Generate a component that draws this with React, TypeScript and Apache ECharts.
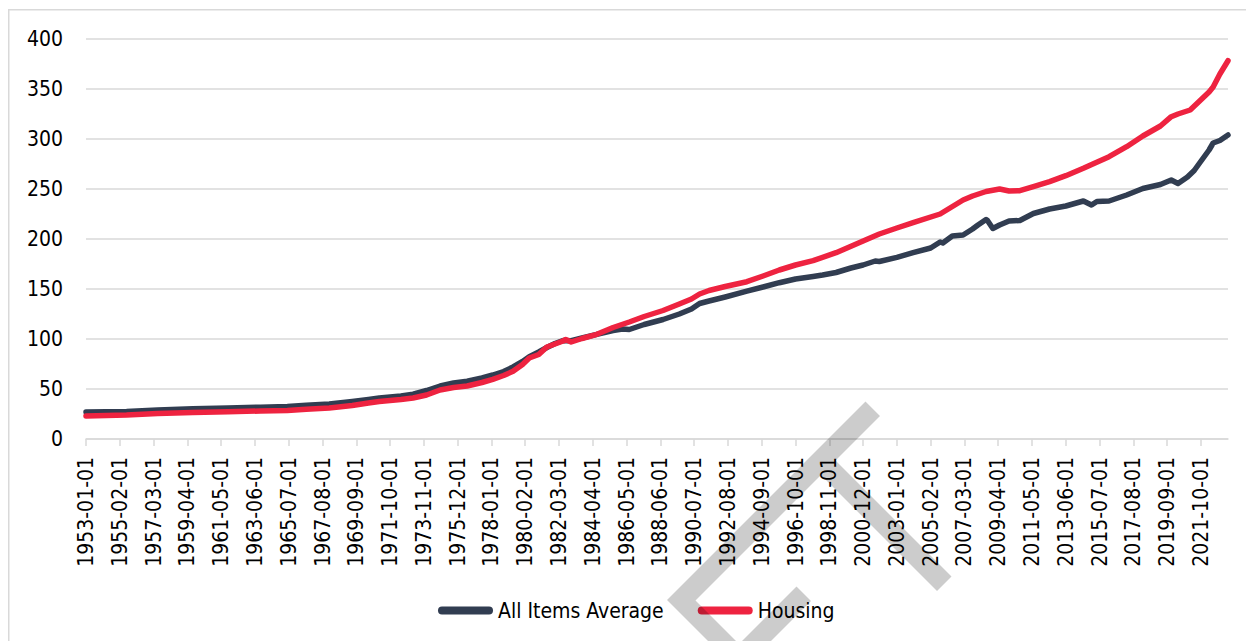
import React, { useEffect, useRef } from "react";
import * as echarts from "echarts";

const FONT = "'DejaVu Sans Condensed', 'DejaVu Sans', sans-serif";

// Axis settings
const START_YEAR = 1953;
const LAST_INDEX = 845; // 2023-06
const LABEL_STEP = 25; // months between tick labels
const LAST_LABEL_INDEX = 825; // 2021-10
const Y_TICKS = [0, 50, 100, 150, 200, 250, 300, 350, 400];

// All Items Average
const allDates = [
  "1953-01", "1955-07", "1957-06", "1959-08", "1961-10", "1963-10", "1965-06", "1966-08",
  "1968-01", "1969-06", "1970-06", "1971-02", "1972-06", "1973-03", "1974-01", "1974-11",
  "1975-09", "1976-07", "1977-06", "1978-02", "1978-10", "1979-05", "1979-12", "1980-05",
  "1980-12", "1981-06", "1981-12", "1982-06", "1982-12", "1983-08", "1984-07", "1985-07",
  "1986-02", "1986-07", "1987-06", "1988-08", "1989-08", "1990-05", "1990-11", "1991-06",
  "1992-06", "1993-10", "1994-10", "1995-10", "1996-10", "1997-11", "1998-06", "1999-04",
  "2000-03", "2000-12", "2001-09", "2001-12", "2003-01", "2004-01", "2005-02", "2005-09",
  "2005-11", "2006-06", "2007-02", "2007-09", "2008-01", "2008-07", "2008-08", "2008-12",
  "2009-05", "2009-12", "2010-08", "2011-06", "2012-06", "2013-06", "2014-07", "2015-01",
  "2015-05", "2016-02", "2017-03", "2018-03", "2019-04", "2019-12", "2020-05", "2020-12",
  "2021-05", "2021-09", "2022-04", "2022-07", "2022-12", "2023-06",
];
const allValues = [
  27.0, 27.6, 29.0, 30.2, 31.0, 31.8, 32.6, 33.8,
  35.0, 37.5, 39.5, 41.0, 43.0, 44.8, 48.5, 53.0,
  56.0, 57.8, 61.0, 64.0, 67.5, 72.0, 77.5, 82.3,
  87.0, 91.5, 95.5, 98.5, 98.3, 101.0, 104.7, 108.5,
  110.0, 109.5, 114.5, 119.5, 125.0, 130.0, 135.5, 138.0,
  142.0, 147.8, 152.0, 156.3, 160.0, 162.5, 164.0, 166.5,
  171.0, 174.0, 178.0, 177.5, 181.7, 186.3, 191.0, 197.0,
  196.0, 203.0, 204.0, 210.0, 214.0, 219.5, 218.5, 210.5,
  214.0, 218.0, 218.5, 225.5, 230.0, 233.0, 238.0, 234.0,
  237.5, 238.0, 244.0, 250.5, 254.5, 259.0, 255.5, 262.0,
  268.5, 276.0, 289.0, 296.0, 298.5, 304.0,
];

// Housing
const housingDates = [
  "1953-01", "1955-07", "1957-06", "1959-08", "1961-10", "1963-10", "1965-06", "1966-08",
  "1968-01", "1969-06", "1970-06", "1971-02", "1972-06", "1973-03", "1974-01", "1974-11",
  "1975-09", "1976-07", "1977-06", "1978-02", "1978-10", "1979-05", "1979-12", "1980-05",
  "1980-12", "1981-06", "1981-12", "1982-06", "1982-08", "1982-12", "1983-08", "1984-07",
  "1985-07", "1986-07", "1987-06", "1988-08", "1989-08", "1990-05", "1990-11", "1991-06",
  "1992-06", "1993-10", "1994-10", "1995-10", "1996-10", "1997-11", "1999-04", "2000-12",
  "2001-12", "2003-01", "2004-01", "2005-09", "2007-02", "2007-09", "2008-07", "2009-05",
  "2009-12", "2010-08", "2011-06", "2012-06", "2013-06", "2014-07", "2015-02", "2016-02",
  "2017-03", "2018-03", "2019-04", "2019-12", "2020-05", "2021-02", "2021-09", "2022-04",
  "2022-07", "2022-12", "2023-06",
];
const housingValues = [
  23.0, 24.0, 25.5, 26.5, 27.3, 28.0, 28.6, 29.8,
  31.0, 33.5, 36.0, 37.5, 39.5, 41.0, 44.0, 49.0,
  51.5, 53.0, 56.5, 59.7, 63.5, 67.7, 74.5, 81.0,
  84.5, 92.0, 95.0, 98.0, 99.5, 97.0, 100.5, 104.7,
  111.5, 117.0, 122.5, 128.5, 135.0, 140.0, 145.0, 148.5,
  152.5, 157.3, 163.0, 169.0, 174.0, 178.3, 186.3, 198.0,
  205.0, 211.0, 216.3, 225.0, 239.0, 243.0, 247.5, 250.0,
  248.0, 248.3, 252.3, 257.3, 263.3, 270.7, 275.0, 282.3,
  292.3, 303.0, 313.0, 322.3, 325.0, 329.0, 338.0, 347.0,
  352.0, 365.0, 378.3,
];

const toIndex = (d: string) => {
  const [y, m] = d.split("-").map(Number);
  return (y - START_YEAR) * 12 + (m - 1);
};
const toLabel = (i: number) => {
  const y = START_YEAR + Math.floor(i / 12);
  const m = (i % 12) + 1;
  return `${y}-${m < 10 ? "0" + m : m}-01`;
};

const labelPositions: number[] = [];
for (let i = 0; i <= LAST_LABEL_INDEX; i += LABEL_STEP) labelPositions.push(i);

// watermark outline in (x+y, x-y) space
const uv = (pts: number[][]) => pts.map(([u, v]) => [(u + v) / 2, (u - v) / 2]);
const wmMain = uv([
  [1267, 464], [1296, 464], [1296, 375], [1528, 375], [1528, 346], [1296, 346],
  [1296, 95], [1420, 95], [1420, 67], [1267, 67],
]);
const wmArm = uv([[1383, 210], [1412, 210], [1412, 95], [1383, 95]]);

export default function App() {
  const ref = useRef<HTMLDivElement>(null);
  useEffect(() => {
    if (!ref.current) return;
    const chart = echarts.init(ref.current, undefined, { renderer: "svg" });
    const allData = allDates.map((d, i) => [toIndex(d), allValues[i]]);
    const housingData = housingDates.map((d, i) => [toIndex(d), housingValues[i]]);
    chart.setOption({
      animation: false,
      backgroundColor: "#ffffff",
      textStyle: { fontFamily: FONT },
      grid: { left: 86, right: 18, top: 39, bottom: 202, containLabel: false },
      xAxis: {
        type: "value",
        min: 0,
        max: LAST_INDEX,
        interval: LABEL_STEP,
        axisLine: { show: true, lineStyle: { color: "#d9d9d9", width: 1.5 } },
        axisTick: {
          show: true,
          length: 7,
          lineStyle: { color: "#d9d9d9", width: 1.5 },
          customValues: labelPositions,
        },
        axisLabel: {
          rotate: 90,
          margin: 18,
          fontSize: 21,
          color: "#000000",
          fontFamily: FONT,
          customValues: labelPositions,
          formatter: (v: number) =>
            v % LABEL_STEP === 0 && v <= LAST_LABEL_INDEX ? toLabel(v) : "",
        },
        splitLine: { show: false },
      },
      yAxis: {
        type: "value",
        min: Y_TICKS[0],
        max: Y_TICKS[Y_TICKS.length - 1],
        interval: 50,
        axisLine: { show: false },
        axisTick: { show: false },
        axisLabel: { fontSize: 21, color: "#000000", margin: 23, fontFamily: FONT },
        splitLine: { show: true, lineStyle: { color: "#d9d9d9", width: 1.5 } },
      },
      legend: {
        left: 433,
        top: 595,
        itemWidth: 55,
        itemHeight: 8,
        itemGap: 34,
        icon: "path://M4,0H51A4,4 0 0 1 51,8H4A4,4 0 0 1 4,0Z",
        textStyle: { fontSize: 21, color: "#000000", fontFamily: FONT },
        data: ["All Items Average", "Housing"],
      },
      series: [
        {
          name: "All Items Average",
          type: "line",
          data: allData,
          showSymbol: false,
          symbol: "none",
          itemStyle: { color: "#313d51" },
          lineStyle: { color: "#313d51", width: 5.5, cap: "round", join: "round" },
          z: 2,
        },
        {
          name: "Housing",
          type: "line",
          data: housingData,
          showSymbol: false,
          symbol: "none",
          itemStyle: { color: "#ee2340" },
          lineStyle: { color: "#ee2340", width: 5.5, cap: "round", join: "round" },
          z: 3,
        },
      ],
      graphic: [
        {
          type: "rect",
          silent: true,
          shape: { x: 8.75, y: 9.75, width: 1400, height: 800 },
          style: { fill: "none", stroke: "#d9d9d9", lineWidth: 1.5 },
          z: 100,
        },
        {
          type: "polygon",
          silent: true,
          shape: { points: wmMain },
          style: { fill: "rgba(0,0,0,0.2)" },
          z: 100,
        },
        {
          type: "polygon",
          silent: true,
          shape: { points: wmArm },
          style: { fill: "rgba(0,0,0,0.2)" },
          z: 100,
        },
      ],
    });
    return () => chart.dispose();
  }, []);
  return (
    <div
      ref={ref}
      style={{ position: "fixed", left: 0, top: 0, width: 1246, height: 641 }}
    />
  );
}
